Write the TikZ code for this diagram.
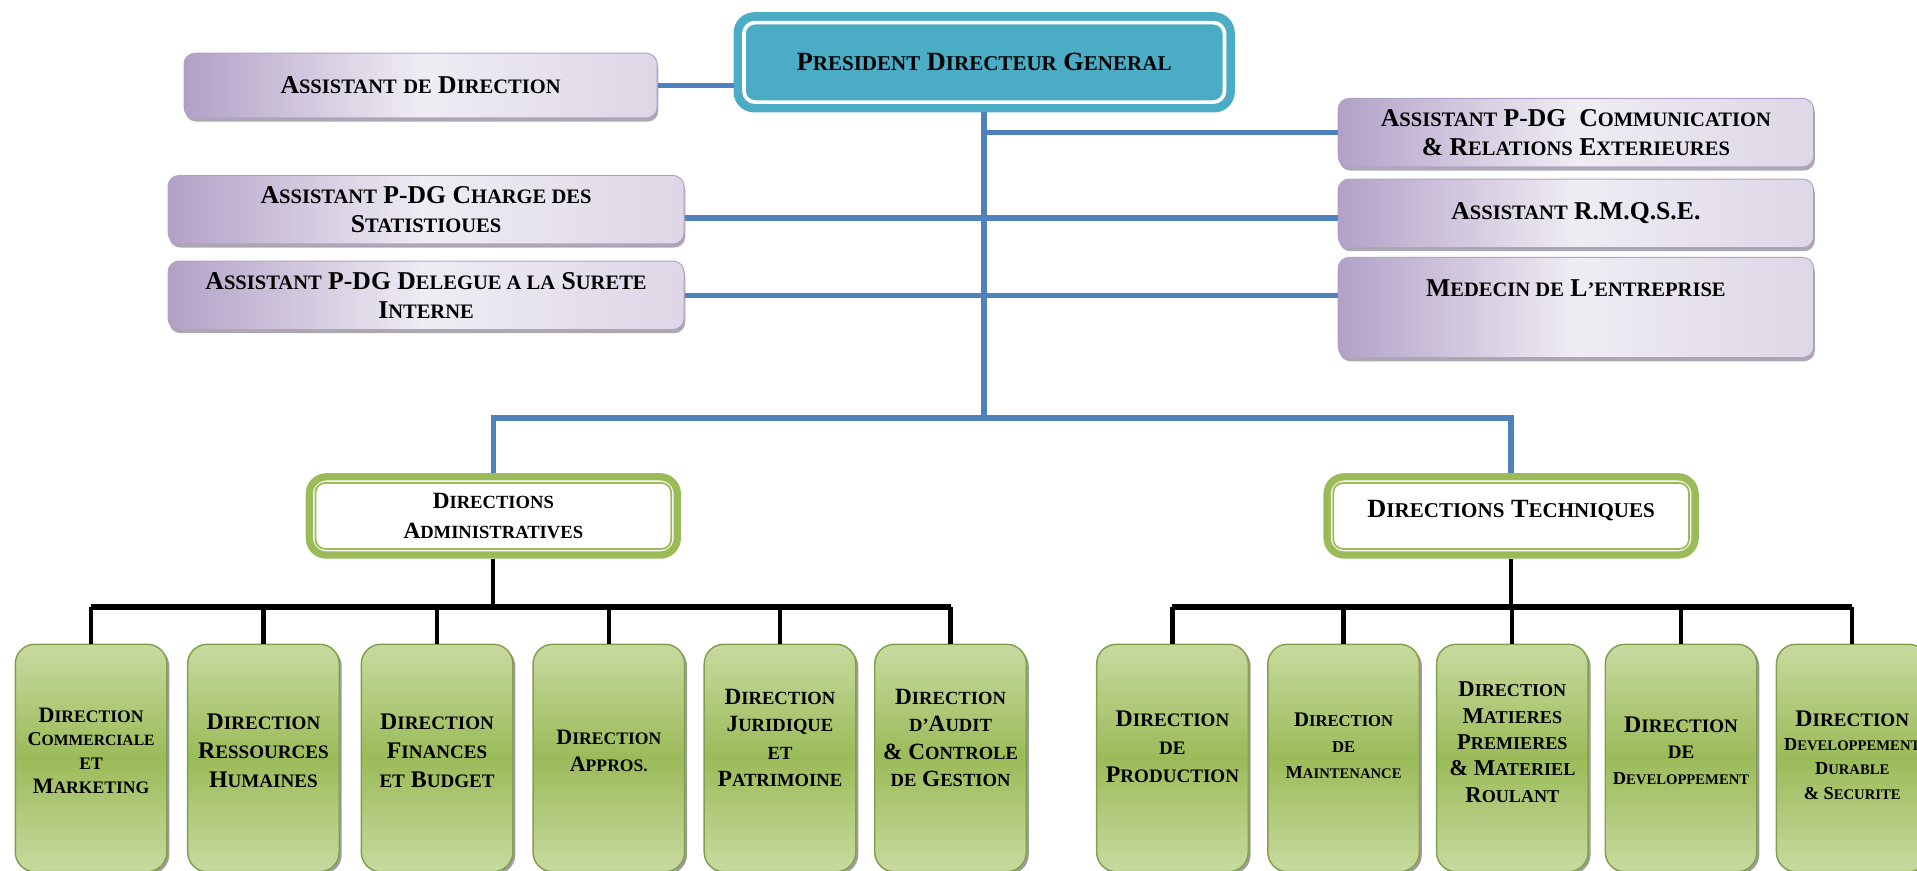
\documentclass[tikz,border=0pt]{standalone}
\usepackage{fontspec}
\setmainfont{Liberation Serif}
\usetikzlibrary{shadows}
\definecolor{pdgteal}{RGB}{75,172,198}
\definecolor{linkblue}{RGB}{79,129,189}
\definecolor{dirgreen}{RGB}{155,187,89}
\definecolor{palegreen}{RGB}{200,218,160}
\definecolor{lilac}{RGB}{178,161,199}
\definecolor{palelilac}{RGB}{229,224,236}
\makeatletter
\newcommand\lc[1]{{\fontsize{\strip@pt\dimexpr0.8\dimexpr\f@size pt\relax\relax}{\f@baselineskip}\selectfont #1}}
\makeatother
\newcommand\narrow{\fontsize{15}{20}\selectfont}

\begin{document}
\begin{tikzpicture}[x=1pt,y=-1pt,
    pdg/.style={draw=pdgteal,fill=pdgteal,line width=6pt,rounded corners=14pt,
      minimum width=404pt,minimum height=76pt,font=\fontsize{21.5}{24}\selectfont\bfseries},
    asst/.style={draw=lilac,line width=0.8pt,rounded corners=9pt,
      left color=lilac,right color=palelilac!85!lilac,middle color=palelilac!60!white,
      drop shadow={shadow xshift=1pt,shadow yshift=-3pt,fill=lilac!50!black,opacity=0.5},
      align=center,inner sep=2pt,font=\fontsize{21}{24}\selectfont\bfseries},
    dirhead/.style={draw=dirgreen,fill=white,line width=6pt,rounded corners=14pt,
      minimum width=301pt,minimum height=64pt,align=center,font=\fontsize{19}{24}\selectfont\bfseries},
    unit/.style={draw=dirgreen!85!black,line width=1.2pt,rounded corners=16pt,
      top color=palegreen,bottom color=palegreen,middle color=dirgreen,
      drop shadow={shadow xshift=2pt,shadow yshift=-2pt,fill=black!55,opacity=0.7},
      minimum width=124pt,minimum height=186pt,inner sep=1pt,align=center,text depth=12pt,
      font=\fontsize{18}{22}\selectfont\bfseries},
    blueline/.style={draw=linkblue,line width=4.5pt},
    barline/.style={draw=black,line width=5pt},
    dropline/.style={draw=black,line width=3.5pt}]
    \useasboundingbox (0,0) rectangle (1568,712);

    \node[pdg] (pdg) at (805,51) {P\lc{RESIDENT} D\lc{IRECTEUR} G\lc{ENERAL}};
    \draw[white,line width=3pt,rounded corners=9pt]
      ([xshift=8.5pt,yshift=-8.5pt]pdg.north west) rectangle ([xshift=-8.5pt,yshift=8.5pt]pdg.south east);

    \node[asst,minimum width=387pt,minimum height=53pt] (ad) at (344,70) {A\lc{SSISTANT} \lc{DE} D\lc{IRECTION}};
    \node[asst,minimum width=422pt,minimum height=56pt] (stat) at (348.5,171.5)
      {A\lc{SSISTANT} P-DG C\lc{HARGE DES}\\S\lc{TATISTIOUES}};
    \node[asst,minimum width=422pt,minimum height=56pt] (sur) at (348.5,241.5)
      {A\lc{SSISTANT} P-DG D\lc{ELEGUE A LA} S\lc{URETE}\\I\lc{NTERNE}};
    \node[asst,minimum width=389pt,minimum height=56pt] (com) at (1289,108.5)
      {A\lc{SSISTANT} P-DG\ \ C\lc{OMMUNICATION}\\\& R\lc{ELATIONS} E\lc{XTERIEURES}};
    \node[asst,minimum width=389pt,minimum height=56pt] (rmq) at (1289,174.5) {A\lc{SSISTANT} R.M.Q.S.E.};
    \node[asst,minimum width=389pt,minimum height=82pt] (med) at (1289,251.5) {M\lc{EDECIN DE} L\lc{’ENTREPRISE}\\\strut};

    \node[dirhead] (adm) at (403.5,422) {D\lc{IRECTIONS}\\A\lc{DMINISTRATIVES}};
    \draw[dirgreen,line width=1.5pt,rounded corners=8pt]
      ([xshift=8pt,yshift=-8pt]adm.north west) rectangle ([xshift=-8pt,yshift=8pt]adm.south east);
    \node[dirhead,font=\fontsize{21.5}{24}\selectfont\bfseries,text depth=12pt] (tech) at (1236,422) {D\lc{IRECTIONS} T\lc{ECHNIQUES}};
    \draw[dirgreen,line width=1.5pt,rounded corners=8pt]
      ([xshift=8pt,yshift=-8pt]tech.north west) rectangle ([xshift=-8pt,yshift=8pt]tech.south east);

    % administrative directions
    \node[unit,font=\fontsize{18}{19.5}\selectfont\bfseries] (u1) at (74.5,620)
      {D\lc{IRECTION}\\{\fontsize{16}{19.5}\selectfont C\lc{OMMERCIALE}}\\\lc{ET}\\M\lc{ARKETING}};
    \node[unit,font=\fontsize{19.5}{24}\selectfont\bfseries] (u2) at (215.5,620) {D\lc{IRECTION}\\R\lc{ESSOURCES}\\H\lc{UMAINES}};
    \node[unit,font=\fontsize{19.5}{24}\selectfont\bfseries] (u3) at (357.5,620) {D\lc{IRECTION}\\F\lc{INANCES}\\\lc{ET} B\lc{UDGET}};
    \node[unit] (u4) at (498,620) {D\lc{IRECTION}\\A\lc{PPROS.}};
    \node[unit,font=\fontsize{19}{22.5}\selectfont\bfseries,text depth=33pt] (u5) at (638,620)
      {D\lc{IRECTION}\\J\lc{URIDIQUE}\\\lc{ET}\\P\lc{ATRIMOINE}};
    \node[unit,font=\fontsize{19}{22.5}\selectfont\bfseries,text depth=33pt] (u6) at (777.5,620)
      {D\lc{IRECTION}\\\lc{D’}A\lc{UDIT}\\\& C\lc{ONTROLE}\\\lc{DE} G\lc{ESTION}};

    % technical directions
    \node[unit,font=\fontsize{19.5}{23}\selectfont\bfseries,text depth=18pt] (r1) at (959,620)
      {D\lc{IRECTION}\\\lc{DE}\\P\lc{RODUCTION}};
    \node[unit,font=\fontsize{17}{21}\selectfont\bfseries,text depth=20pt] (r2) at (1099,620)
      {D\lc{IRECTION}\\\lc{DE}\\{\narrow M\lc{AINTENANCE}}};
    \node[unit,font=\fontsize{18.5}{21.5}\selectfont\bfseries,text depth=26pt] (r3) at (1237,620)
      {D\lc{IRECTION}\\M\lc{ATIERES}\\P\lc{REMIERES}\\\& M\lc{ATERIEL}\\R\lc{OULANT}};
    \node[unit,font=\fontsize{19.5}{21}\selectfont\bfseries] (r4) at (1375,620)
      {D\lc{IRECTION}\\\lc{DE}\\{\narrow D\lc{EVELOPPEMENT}}};
    \node[unit,font=\fontsize{19.5}{20}\selectfont\bfseries,text depth=5pt] (r5) at (1515,620)
      {D\lc{IRECTION}\\{\narrow D\lc{EVELOPPEMENT}}\\{\narrow D\lc{URABLE}}\\{\narrow\& S\lc{ECURITE}}};

    \coordinate (hub) at (805,342);
    \coordinate (abar) at ([yshift=30pt]u1.north);
    \coordinate (tbar) at ([yshift=30pt]r1.north);

    \draw[blueline]
      (ad.east) -- (ad.east -| pdg.west)
      (pdg.south) -- (hub)
      (com.west) -- (com.west -| pdg.south)
      ([yshift=-7pt]stat.east) -- ([yshift=-7pt]stat.east -| rmq.west)
      (sur.east) -- (sur.east -| med.west)
      (adm.north) -- (adm.north |- hub) -- (tech.north |- hub) -- (tech.north);

    \draw[barline]
      (u1.north |- abar) -- (u6.north |- abar)
      (r1.north |- tbar) -- (r5.north |- tbar);
    \draw[dropline]
      (adm.south) -- (adm.south |- abar)
      (u1.north) -- (u1.north |- abar)
      (u2.north) -- (u2.north |- abar)
      (u3.north) -- (u3.north |- abar)
      (u4.north) -- (u4.north |- abar)
      (u5.north) -- (u5.north |- abar)
      (u6.north) -- (u6.north |- abar)
      (tech.south) -- (tech.south |- tbar)
      (r1.north) -- (r1.north |- tbar)
      (r2.north) -- (r2.north |- tbar)
      (r3.north) -- (r3.north |- tbar)
      (r4.north) -- (r4.north |- tbar)
      (r5.north) -- (r5.north |- tbar);
  \end{tikzpicture}
\end{document}
